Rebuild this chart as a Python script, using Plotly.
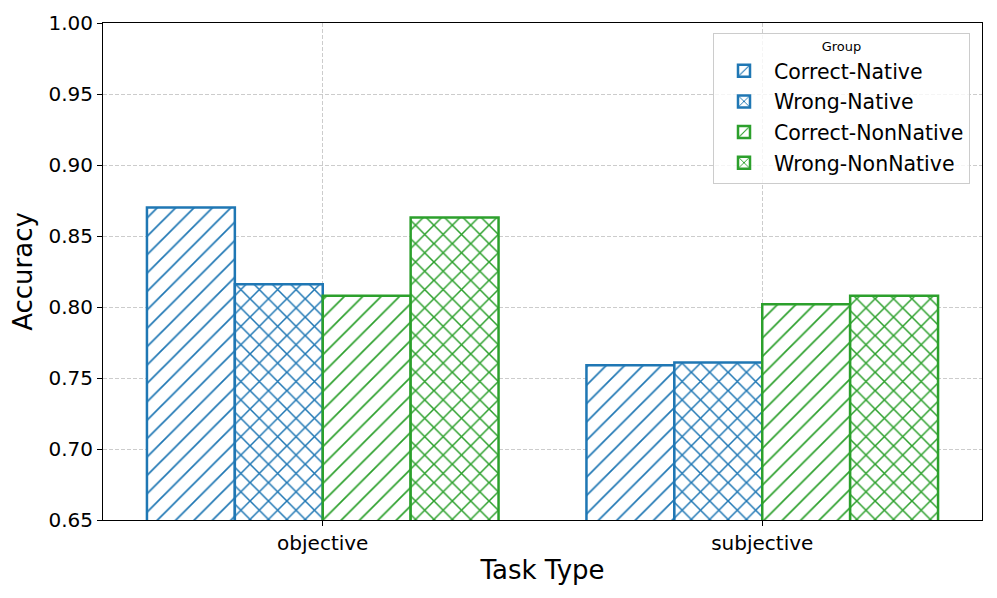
import plotly.graph_objects as go

categories = ["objective", "subjective"]
groups = ["Correct-Native", "Wrong-Native", "Correct-NonNative", "Wrong-NonNative"]
values = {
    "Correct-Native": [0.870, 0.759],
    "Wrong-Native": [0.816, 0.761],
    "Correct-NonNative": [0.808, 0.802],
    "Wrong-NonNative": [0.863, 0.808],
}
colors = ["#1f77b4", "#1f77b4", "#2ca02c", "#2ca02c"]
hatches = ["/", "x", "/", "x"]
y_ticks = [0.65, 0.70, 0.75, 0.80, 0.85, 0.90, 0.95, 1.00]

FONT = "DejaVu Sans"
fig = go.Figure()
for g, c, h in zip(groups, colors, hatches):
    fig.add_trace(go.Bar(
        x=categories, y=values[g], name=g, legendgroup=g,
        marker=dict(color="white", line=dict(color=c, width=2.5),
                    pattern=dict(shape=h, fgcolor=c, fgopacity=1, bgcolor="white",
                                 size=13, solidity=0.13 if h == "/" else 0.22,
                                 fillmode="overlay")),
    ))

# page body has an 8px margin, so the figure is 8px smaller each way
fig.update_layout(
    width=989, height=590,
    margin=dict(l=95, r=15, t=15, b=78, autoexpand=False),
    plot_bgcolor="white", paper_bgcolor="white",
    barmode="group", bargap=0.2, bargroupgap=0,
    font=dict(family=FONT, color="black", size=20),
    legend=dict(
        title=dict(text="Group", font=dict(size=13), side="top center"),
        x=(970 - 103) / 879, xanchor="right", y=(520 - 33) / 497, yanchor="top",
        bordercolor="#cccccc", borderwidth=1, bgcolor="rgba(255,255,255,0.8)",
        font=dict(size=20.5), itemwidth=50, tracegroupgap=1,
    ),
)
fig.update_xaxes(
    range=[-0.5, 1.5], showline=True, linecolor="black", linewidth=1, mirror=True,
    ticks="outside", ticklen=5, tickcolor="black", automargin=False,
    showgrid=True, gridcolor="#cccccc", griddash="4px,2px", gridwidth=1,
    title=dict(text="Task Type", font=dict(size=26), standoff=6),
)
fig.update_yaxes(
    range=[0.65, 1.0], tickvals=y_ticks, ticktext=[f"{v:.2f}" for v in y_ticks],
    showline=True, linecolor="black", linewidth=1, mirror=True,
    ticks="outside", ticklen=5, tickcolor="black", automargin=False,
    showgrid=True, gridcolor="#cccccc", griddash="4px,2px", gridwidth=1,
    title=dict(text="Accuracy", font=dict(size=26), standoff=8),
    zeroline=False,
)
fig.write_html("out.html")
